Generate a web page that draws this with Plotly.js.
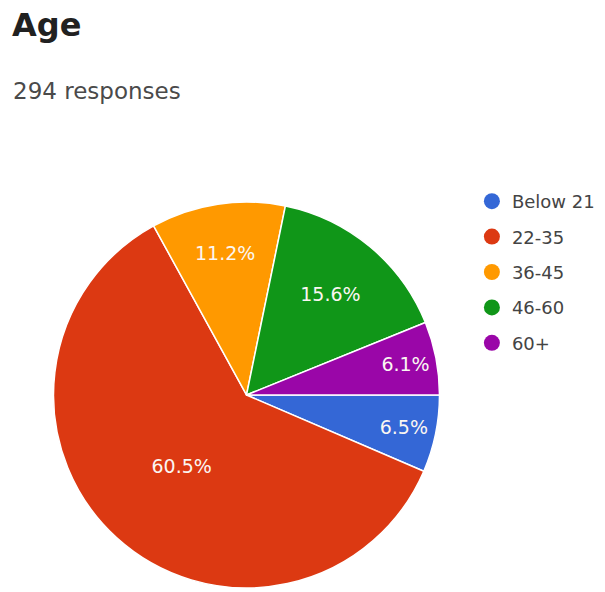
<!DOCTYPE html>
<html>
<head>
<meta charset="utf-8">
<script src="https://cdn.plot.ly/plotly-3.0.1.min.js"></script>
<style>html,body{margin:0;padding:0;background:#fff;}#chart{width:605px;height:592px;}</style>
</head>
<body>
<div id="chart"></div>
<script>
const categories = ["Below 21", "22-35", "36-45", "46-60", "60+"];
const counts = [19, 178, 33, 46, 18];
const colors = ["#3467d6", "#dc3912", "#ff9900", "#109618", "#9a06a8"];
const chartTitle = "Age";
const subtitle = "294 responses";

const FONT = "'DejaVu Sans', Verdana, sans-serif";

const pie = {
  type: "pie",
  labels: categories,
  values: counts,
  sort: false,
  direction: "clockwise",
  rotation: 90,
  marker: {colors: colors, line: {color: "#ffffff", width: 1.5}},
  textinfo: "percent",
  texttemplate: "%{percent:.1%}",
  textposition: "inside",
  insidetextorientation: "horizontal",
  textfont: {family: FONT, size: 19, color: "#fbf6f2"},
  domain: {x: [0.0843, 0.7306], y: [0.0068, 0.6588]},
  showlegend: false,
  hoverinfo: "label+percent"
};

const legendTraces = categories.map((c, i) => ({
  type: "scatter",
  mode: "markers",
  x: [null], y: [null],
  name: c,
  legendgroup: "g" + i,
  marker: {color: colors[i], size: 16, symbol: "circle"},
  showlegend: true,
  hoverinfo: "skip"
}));

const layout = {
  width: 605, height: 592,
  margin: {l: 0, r: 0, t: 0, b: 0},
  paper_bgcolor: "#ffffff",
  plot_bgcolor: "#ffffff",
  xaxis: {visible: false},
  yaxis: {visible: false},
  title: {
    text: "<b>" + chartTitle + "</b>",
    x: 0.02, xanchor: "left", xref: "paper",
    y: 1 - 25/592, yanchor: "middle", yref: "container",
    font: {family: FONT, size: 32, color: "#212121"}
  },
  annotations: [{
    text: subtitle, xref: "paper", yref: "paper",
    x: 0.018, xanchor: "left", y: 1 - 91/592, yanchor: "middle",
    showarrow: false,
    font: {family: FONT, size: 23, color: "#4a4a4a"}
  }],
  legend: {
    x: 0.78, xanchor: "left", y: 1 - 183/592, yanchor: "top",
    traceorder: "grouped",
    tracegroupgap: 9,
    font: {family: FONT, size: 18, color: "#444444"},
    bgcolor: "rgba(0,0,0,0)"
  },
  showlegend: true
};

Plotly.newPlot("chart", [pie].concat(legendTraces), layout, {displayModeBar: false, staticPlot: true});
</script>
</body>
</html>
